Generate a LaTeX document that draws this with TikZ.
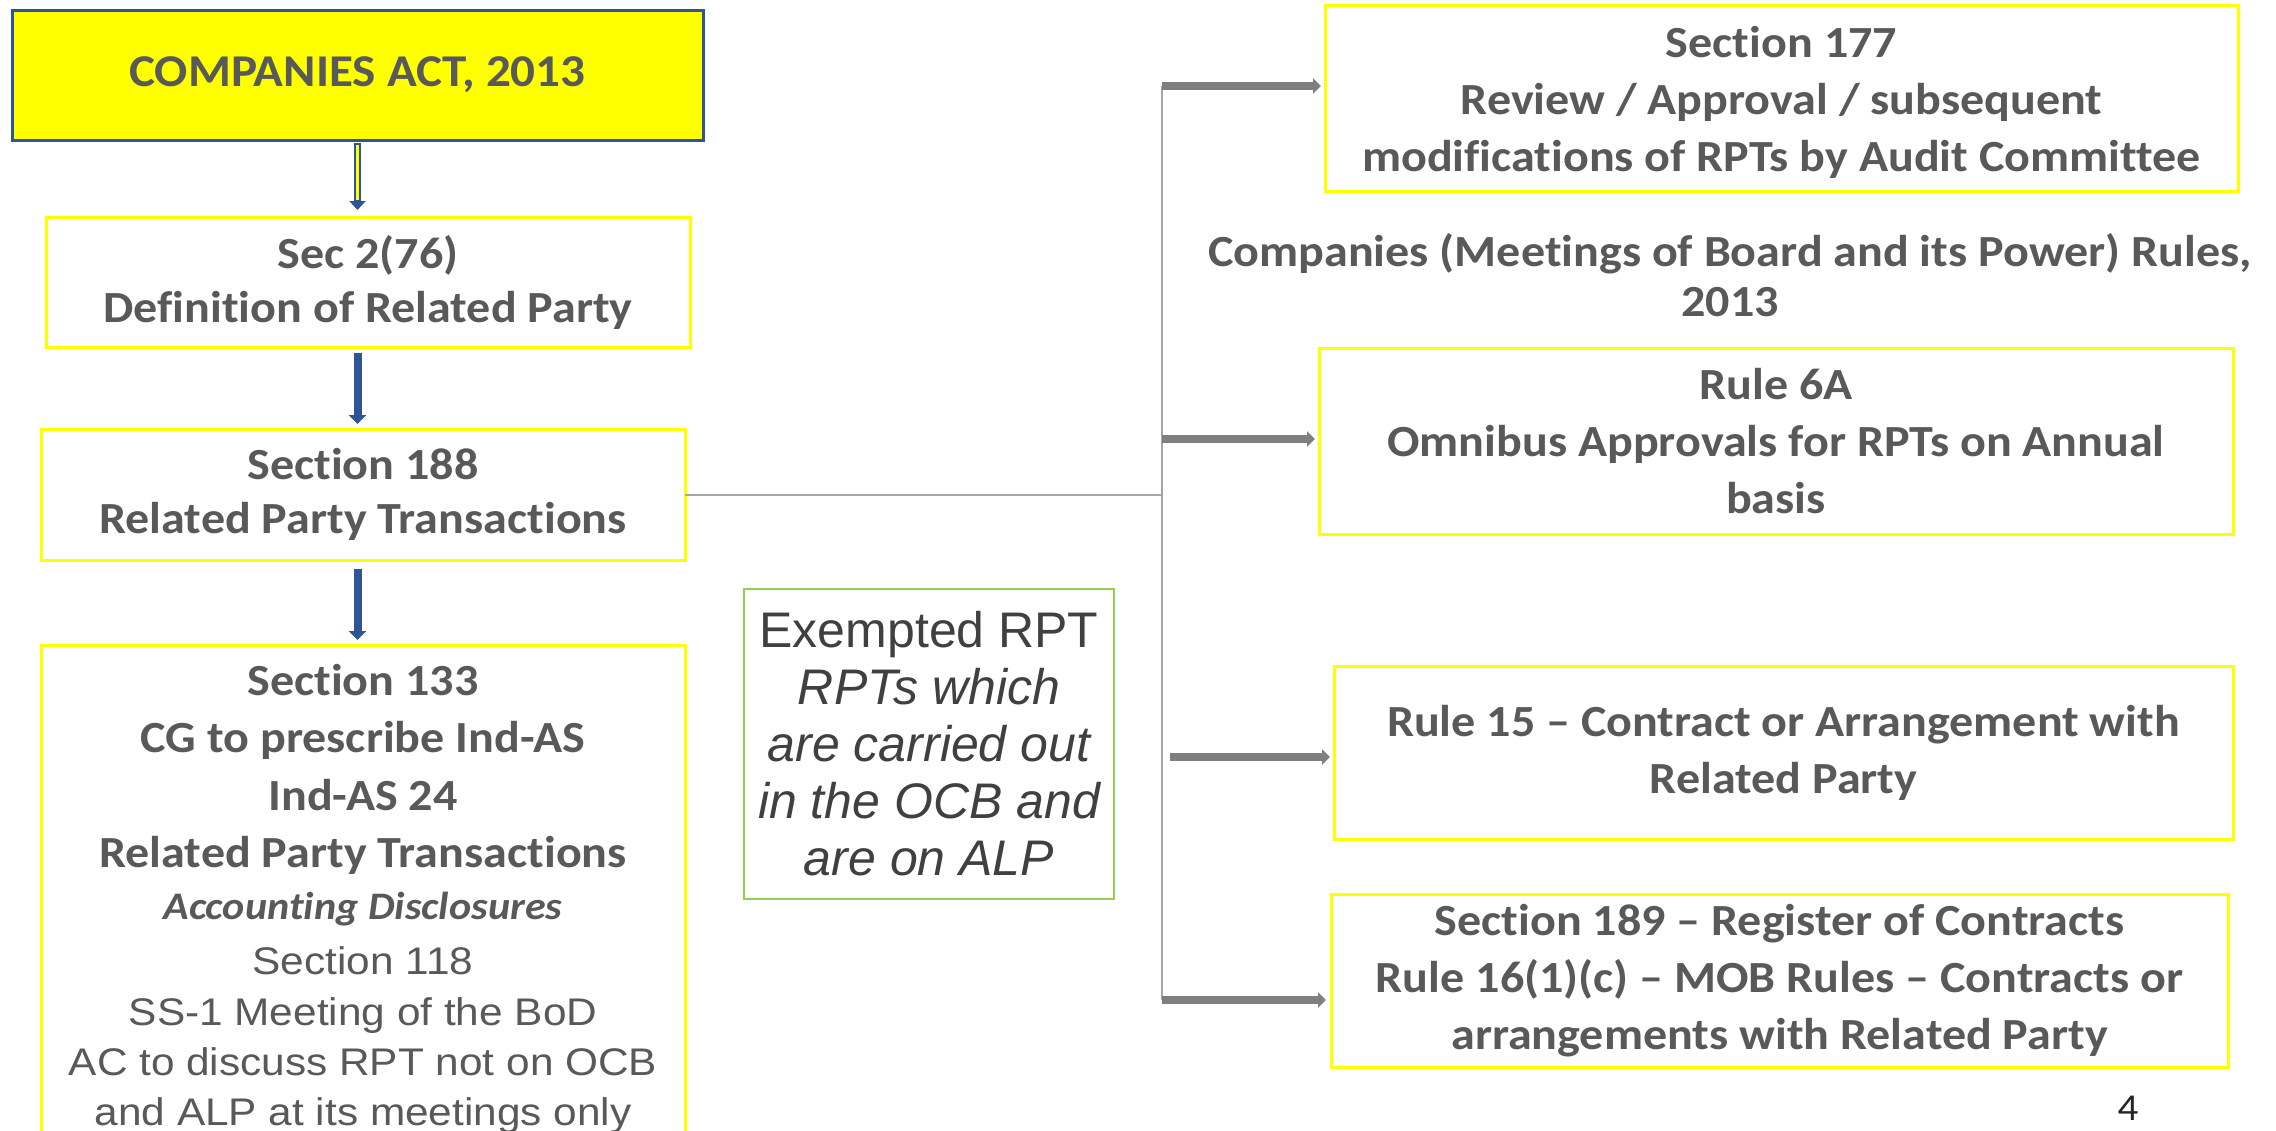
\documentclass[tikz,border=0pt]{standalone}
\usepackage{fontspec}
\setmainfont{Carlito}[FakeStretch=1.08, Ligatures=CommonOff]
\newfontfamily\arialwide{Liberation Sans}[FakeStretch=1.1]
\newfontfamily\arialfont{Liberation Sans}
\usetikzlibrary{arrows.meta,calc}
\setlength{\lineskiplimit}{-100pt}
\definecolor{txtgray}{HTML}{595959}
\definecolor{darktxt}{HTML}{404040}
\definecolor{boxyellow}{HTML}{FFFF00}
\definecolor{actblue}{HTML}{2F5597}
\definecolor{linkgray}{HTML}{7F7F7F}
\definecolor{thingray}{HTML}{A6A6A6}
\definecolor{exgreen}{HTML}{92D050}
\begin{document}
\begin{tikzpicture}[x=1pt,y=-1pt,
  every node/.style={inner sep=0pt, outer sep=0pt},
  ybox/.style={draw=boxyellow, line width=3pt, align=center, text=txtgray,
    anchor=north west, font=\fontsize{44.5}{54}\selectfont\bfseries},
  rbox/.style={ybox, font=\fontsize{44.5}{57}\selectfont\bfseries},
  bluearrow/.style={draw=actblue, line width=8pt, -{Triangle[length=9pt,width=17pt]}},
  grayarrow/.style={draw=linkgray, line width=7.5pt, -{Triangle[length=8pt,width=15pt]}},
  thinlink/.style={draw=thingray, line width=2pt}
]
\useasboundingbox (0,0) rectangle (2276,1130);
\fill[white] (0,0) rectangle (2276,1130);
\clip (0,0) rectangle (2276,1130);

% left column
\node[draw=actblue, fill=boxyellow, line width=3pt, anchor=north west,
  minimum width=691, minimum height=130, text=txtgray,
  font=\fontsize{45.5}{57}\selectfont\bfseries] (act) at (12,10) {COMPANIES ACT, 2013};
\node[ybox, minimum width=644, minimum height=130] (sec2) at (46,217)
  {Sec 2(76)\\Definition of Related Party};
\node[ybox, minimum width=644, minimum height=131] (s188) at (41,429)
  {Section 188\\Related Party Transactions};
\node[ybox, minimum width=644, minimum height=600] (s133) at (41,645) {};
\node[anchor=north, align=center, text=txtgray,
  font=\fontsize{44.5}{50}\selectfont\bfseries] (s133txt)
  at ($(s133.north)+(0,19)$)
  {Section 133\\[7pt]
   CG to prescribe Ind-AS\\[8pt]
   Ind-AS 24\\[7pt]
   Related Party Transactions\\[2pt]
   {\fontsize{39}{50}\selectfont\itshape Accounting Disclosures}\\[5pt]
   {\arialwide\fontsize{38.5}{50}\selectfont\mdseries Section 118}\\[1pt]
   {\arialwide\fontsize{38.5}{50}\selectfont\mdseries SS-1 Meeting of the BoD}\\
   {\arialwide\fontsize{38.5}{50}\selectfont\mdseries AC to discuss RPT not on OCB}\\
   {\arialwide\fontsize{38.5}{50}\selectfont\mdseries and ALP at its meetings only}};

% arrows down the left column
\draw[draw=actblue, line width=7pt, -{Triangle[length=9pt,width=16pt]},
  shorten <=3, shorten >=7] (act.south) -- (act.south |- sec2.north);
\draw[boxyellow, line width=2.5pt, shorten <=5, shorten >=17] (act.south) -- (act.south |- sec2.north);
\draw[bluearrow, shorten <=6, shorten >=5] (act.south |- sec2.south) -- (act.south |- s188.north);
\draw[bluearrow, shorten <=9, shorten >=5] (act.south |- s188.south) -- (act.south |- s133.north);

% exempted transactions
\node[draw=exgreen, line width=2pt, anchor=north west, minimum width=370, minimum height=310,
  align=center, text=darktxt, font=\arialfont\fontsize{50}{57}\selectfont] (exempt) at (744,589)
  {Exempted RPT\\ \itshape RPTs which\\ \itshape are carried out\\ \itshape in the OCB and\\ \itshape are on ALP};

% right column
\node[rbox, minimum width=913, minimum height=186] (r1) at (1325,5)
  {\rule{0pt}{40pt}Section 177\\Review / Approval / subsequent\\modifications of RPTs by Audit Committee};
\node[align=center, text=txtgray, font=\fontsize{44.5}{50}\selectfont\bfseries] (rules) at (1730,275)
  {Companies (Meetings of Board and its Power) Rules,\\2013};
\node[rbox, minimum width=914, minimum height=186] (r2) at (1319,348)
  {Rule 6A\\Omnibus Approvals for RPTs on Annual\\basis};
\node[rbox, minimum width=899, minimum height=173] (r3) at (1334,666)
  {Rule 15 – Contract or Arrangement with\\Related Party};
\node[rbox, minimum width=897, minimum height=173] (r4) at (1331,894)
  {Section 189 – Register of Contracts\\Rule 16(1)(c) – MOB Rules – Contracts or\\arrangements with Related Party};

% branch connectors
\coordinate (busTop) at (1162,86);
\coordinate (busR2) at (1162,439);
\coordinate (busR3) at (1170,757);
\coordinate (busBot) at (1162,1000);
\draw[thinlink] (s188.east) -- (s188.east -| busTop);
\draw[thinlink] (busTop) -- (busBot);
\draw[grayarrow, shorten >=4] (busTop) -- (busTop -| r1.west);
\draw[grayarrow, shorten >=4] (busR2) -- (busR2 -| r2.west);
\draw[grayarrow, shorten >=4] (busR3) -- (busR3 -| r3.west);
\draw[grayarrow, shorten >=5] (busBot) -- (busBot -| r4.west);

% page number
\node[text=black!85, font=\fontsize{38}{40}\selectfont] (pageno) at (2128,1108) {4};
\end{tikzpicture}
\end{document}
